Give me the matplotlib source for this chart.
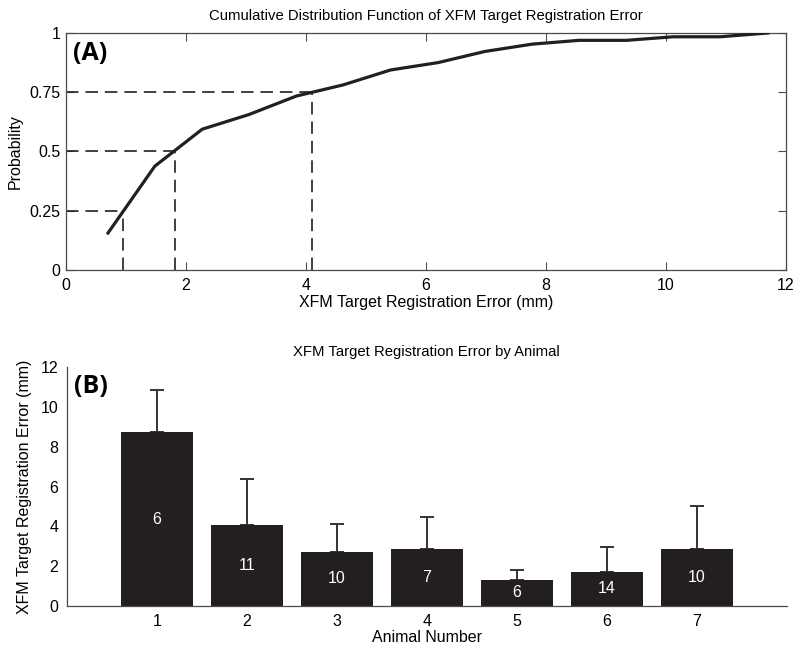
import matplotlib
matplotlib.use("Agg")
import matplotlib.pyplot as plt
import numpy as np

plt.rcParams['font.family'] = ['Liberation Sans', 'DejaVu Sans']
plt.rcParams['lines.scale_dashes'] = False

# Panel A: CDF
cdf_x = [0.70, 1.48, 2.27, 3.05, 3.84, 4.62, 5.41, 6.20, 6.98, 7.77, 8.55, 9.34, 10.12, 10.90, 11.70]
cdf_p = [0.156, 0.438, 0.594, 0.656, 0.734, 0.781, 0.844, 0.875, 0.922, 0.953, 0.969, 0.969, 0.984, 0.984, 1.0]
quant_p = [0.25, 0.5, 0.75]
quant_x = [0.955, 1.817, 4.10]

# Panel B: bars
animals = [1, 2, 3, 4, 5, 6, 7]
tre_mean = [8.73, 4.05, 2.69, 2.84, 1.28, 1.70, 2.84]
tre_err = [2.13, 2.31, 1.44, 1.64, 0.50, 1.27, 2.18]
counts = [6, 11, 10, 7, 6, 14, 10]

dark = '#231f20'
spine = '#4a4a4a'
fs = 11.5

fig = plt.figure(figsize=(8, 6.52), dpi=100)

ax1 = fig.add_axes([0.0825, 0.5859, 0.9, 0.3635])
ax1.plot(cdf_x, cdf_p, color=dark, lw=2.3, solid_joinstyle='round', zorder=3)
for qx, qp in zip(quant_x, quant_p):
    ax1.plot([0, qx], [qp, qp], color=dark, lw=1.2, dashes=(9, 5))
    ax1.plot([qx, qx], [0, qp], color=dark, lw=1.2, dashes=(9, 5))
ax1.set_xlim(0, 12)
ax1.set_ylim(0, 1)
ax1.set_xticks([0, 2, 4, 6, 8, 10, 12])
ax1.set_yticks([0, 0.25, 0.5, 0.75, 1])
ax1.set_yticklabels(['0', '0.25', '0.5', '0.75', '1'])
ax1.tick_params(direction='in', top=True, right=True, length=6, width=0.8,
                color=spine, labelsize=fs, pad=4)
ax1.tick_params(axis='x', pad=6)
for s in ax1.spines.values():
    s.set_color(spine)
    s.set_linewidth(0.9)
ax1.set_xlabel('XFM Target Registration Error (mm)', fontsize=fs, labelpad=1)
ax1.set_ylabel('Probability', fontsize=fs, labelpad=5)
ax1.set_title('Cumulative Distribution Function of XFM Target Registration Error',
              fontsize=10.7, pad=9)
ax1.text(0.01, 0.965, '(A)', transform=ax1.transAxes, ha='left', va='top',
         fontsize=18, fontweight='bold', family=['Open Sans', 'DejaVu Sans'])

ax2 = fig.add_axes([0.0834, 0.071, 0.9, 0.3656])
ax2.bar(animals, tre_mean, width=0.8, color=dark, zorder=2)
ax2.errorbar(animals, tre_mean, yerr=[np.zeros(len(tre_err)), tre_err], fmt='none',
             ecolor='#333333', elinewidth=1.4, capsize=5, capthick=1.4, zorder=1)
for a, m, c in zip(animals, tre_mean, counts):
    ax2.text(a, m / 2, str(c), ha='center', va='center', color='white', fontsize=fs, zorder=4)
ax2.set_xlim(0, 8)
ax2.set_ylim(0, 12)
ax2.set_xticks(animals)
ax2.set_yticks([0, 2, 4, 6, 8, 10, 12])
ax2.tick_params(length=0, labelsize=fs, pad=6)
ax2.spines['top'].set_visible(False)
ax2.spines['right'].set_visible(False)
for s in ['left', 'bottom']:
    ax2.spines[s].set_color(spine)
    ax2.spines[s].set_linewidth(0.9)
ax2.set_xlabel('Animal Number', fontsize=fs, labelpad=1)
ax2.set_ylabel('XFM Target Registration Error (mm)', fontsize=fs, labelpad=6)
ax2.set_title('XFM Target Registration Error by Animal', fontsize=10.7, pad=8)
ax2.text(0.01, 0.97, '(B)', transform=ax2.transAxes, ha='left', va='top',
         fontsize=18, fontweight='bold', family=['Open Sans', 'DejaVu Sans'])

fig.savefig('out.png', dpi=100)
